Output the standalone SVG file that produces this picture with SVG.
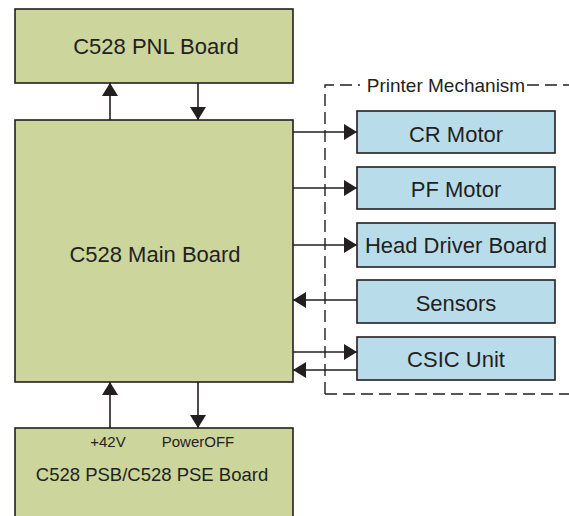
<svg xmlns="http://www.w3.org/2000/svg" width="569" height="516" viewBox="0 0 569 516">
<defs>
<style>
.g{fill:#cbd59c;stroke:#231f20;stroke-width:1.6}
.b{fill:#b9dcea;stroke:#231f20;stroke-width:1.6}
.t{font-family:"Liberation Sans",Arial,sans-serif;fill:#231f20;text-anchor:middle}
.c{stroke:#231f20;stroke-width:1.6;fill:none}
</style>
<marker id="ah" viewBox="0 0 13 16" refX="13" refY="8" markerWidth="13" markerHeight="16" markerUnits="userSpaceOnUse" orient="auto">
<path d="M0,0 L13,8 L0,16 Z" fill="#231f20"/>
</marker>
</defs>
<rect width="569" height="516" fill="#fff"/>
<g id="mechanism">
<path d="M325,394 V85 H360 M527,85 H569 M325,394 H569" fill="none" stroke="#231f20" stroke-width="1.4" stroke-dasharray="12,6"/>
<text class="t" x="446" y="92" font-size="19">Printer Mechanism</text>
</g>
<g id="pnl"><rect class="g" x="15" y="9" width="278" height="74"/><text class="t" x="156" y="54" font-size="22">C528 PNL Board</text></g>
<g id="main"><rect class="g" x="15" y="120" width="278" height="262"/><text class="t" x="155" y="262" font-size="22">C528 Main Board</text></g>
<g id="psb"><rect class="g" x="15" y="428" width="278" height="95"/>
<text class="t" x="108" y="447" font-size="15">+42V</text>
<text class="t" x="198" y="447" font-size="15">PowerOFF</text>
<text class="t" x="152" y="481" font-size="18.5">C528 PSB/C528 PSE Board</text></g>
<g id="cr"><rect class="b" x="357" y="111" width="198" height="42"/><text class="t" x="456" y="142" font-size="22">CR Motor</text></g>
<g id="pf"><rect class="b" x="357" y="167" width="198" height="42"/><text class="t" x="456" y="197" font-size="22">PF Motor</text></g>
<g id="hdb"><rect class="b" x="357" y="223" width="198" height="44"/><text class="t" x="456" y="253" font-size="22">Head Driver Board</text></g>
<g id="sensors"><rect class="b" x="357" y="280" width="198" height="43"/><text class="t" x="456" y="311" font-size="22">Sensors</text></g>
<g id="csic"><rect class="b" x="357" y="337" width="198" height="43"/><text class="t" x="456" y="367" font-size="22">CSIC Unit</text></g>
<g id="connectors">
<line class="c" x1="110" y1="120" x2="110" y2="83" marker-end="url(#ah)"/>
<line class="c" x1="198" y1="83" x2="198" y2="120" marker-end="url(#ah)"/>
<line class="c" x1="110" y1="428" x2="110" y2="382" marker-end="url(#ah)"/>
<line class="c" x1="198" y1="382" x2="198" y2="428" marker-end="url(#ah)"/>
<line class="c" x1="293" y1="132" x2="357" y2="132" marker-end="url(#ah)"/>
<line class="c" x1="293" y1="188" x2="357" y2="188" marker-end="url(#ah)"/>
<line class="c" x1="293" y1="245" x2="357" y2="245" marker-end="url(#ah)"/>
<line class="c" x1="357" y1="300" x2="293" y2="300" marker-end="url(#ah)"/>
<line class="c" x1="293" y1="352" x2="357" y2="352" marker-end="url(#ah)"/>
<line class="c" x1="357" y1="370" x2="293" y2="370" marker-end="url(#ah)"/>
</g>
</svg>
